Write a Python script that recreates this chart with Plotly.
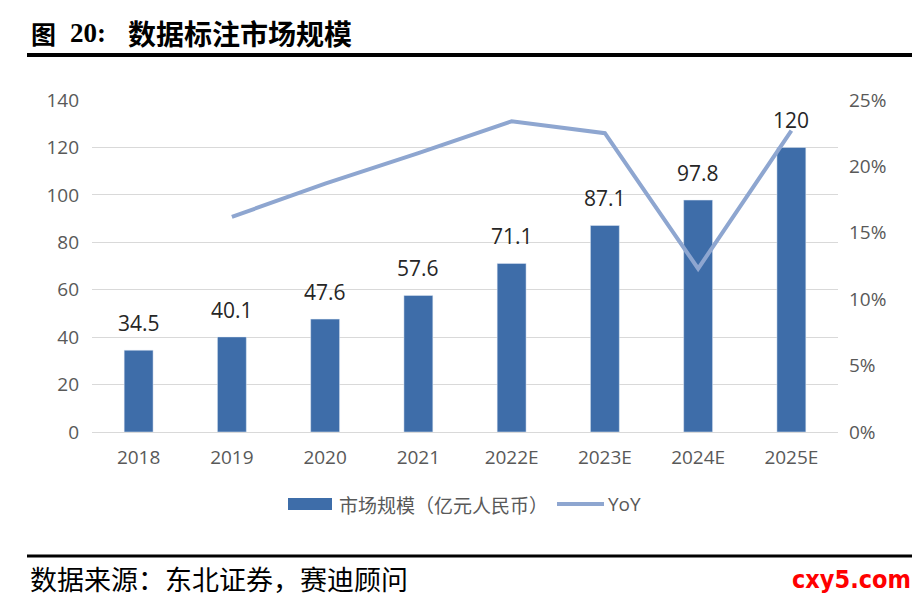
import plotly.graph_objects as go

years = ["2018", "2019", "2020", "2021", "2022E", "2023E", "2024E", "2025E"]
market_size = [34.5, 40.1, 47.6, 57.6, 71.1, 87.1, 97.8, 120]
yoy_years = ["2019", "2020", "2021", "2022E", "2023E", "2024E", "2025E"]
yoy = [0.162, 0.187, 0.210, 0.234, 0.225, 0.123, 0.227]
left_ticks = [0, 20, 40, 60, 80, 100, 120, 140]
right_ticks = [0, 0.05, 0.10, 0.15, 0.20, 0.25]

# page has an 8px body margin
OFF = 8
W, H = 920 - OFF, 599 - OFF
L, R, T, B = 92, 838, 100, 432   # plot area in page pixels

def px(x):
    return (x - L) / (R - L)

def py(y):
    return (B - y) / (B - T)

BAR = "#3E6DA9"
LINE = "#8EA6D0"
GREY = "#595959"
NUMF = "Open Sans, Noto Sans CJK SC"
CJK = "Noto Sans CJK SC"

fig = go.Figure()
fig.add_trace(go.Bar(
    x=years, y=market_size, name="市场规模（亿元人民币）",
    marker=dict(color=BAR), width=0.31, showlegend=False,
))
fig.add_trace(go.Scatter(
    x=yoy_years, y=yoy, name="YoY", yaxis="y2", mode="lines",
    line=dict(color=LINE, width=4), showlegend=False,
))

annotations = []
for i, v in enumerate(market_size):
    annotations.append(dict(
        x=i, y=v, xref="x", yref="y", text=f"{v:g}", showarrow=False,
        yanchor="bottom", yshift=11,
        font=dict(size=21, color="#262626", family=NUMF)))

# title pieces
annotations += [
    dict(text="<b>图</b>", xref="paper", yref="paper", x=px(29), y=py(33),
         xanchor="left", yanchor="middle", showarrow=False,
         font=dict(size=25, color="black", family=CJK)),
    dict(text="<b>20:</b>", xref="paper", yref="paper", x=px(68), y=py(33),
         xanchor="left", yanchor="middle", showarrow=False,
         font=dict(size=27, color="black", family="Liberation Serif, " + CJK)),
    dict(text="<b>数据标注市场规模</b>", xref="paper", yref="paper", x=px(126), y=py(33),
         xanchor="left", yanchor="middle", showarrow=False,
         font=dict(size=28, color="black", family=CJK)),
    # legend texts
    dict(text="市场规模（亿元人民币）", xref="paper", yref="paper", x=px(337), y=py(504),
         xanchor="left", yanchor="middle", showarrow=False,
         font=dict(size=19, color=GREY, family=CJK)),
    dict(text="YoY", xref="paper", yref="paper", x=px(606), y=py(504),
         xanchor="left", yanchor="middle", showarrow=False,
         font=dict(size=19, color=GREY, family=NUMF)),
    # source
    dict(text="数据来源：东北证券，赛迪顾问", xref="paper", yref="paper",
         x=px(28), y=py(578), xanchor="left", yanchor="middle", showarrow=False,
         font=dict(size=27, color="black", family=CJK)),
    dict(text="<b>cxy5.com</b>", xref="paper", yref="paper",
         x=px(913), y=py(579), xanchor="right", yanchor="middle", showarrow=False,
         font=dict(size=25, color="#FF0000",
                   family="Liberation Sans Narrow, DejaVu Sans Condensed, Roboto")),
]

shapes = [
    dict(type="line", xref="paper", yref="paper", x0=px(27), x1=px(925),
         y0=py(55), y1=py(55), line=dict(color="black", width=4)),
    dict(type="line", xref="paper", yref="paper", x0=px(27), x1=px(925),
         y0=py(556), y1=py(556), line=dict(color="black", width=3)),
    # legend symbols
    dict(type="rect", xref="paper", yref="paper", x0=px(288), x1=px(332),
         y0=py(510), y1=py(498), fillcolor=BAR, line=dict(width=0)),
    dict(type="line", xref="paper", yref="paper", x0=px(557), x1=px(604),
         y0=py(504), y1=py(504), line=dict(color=LINE, width=4)),
]

fig.update_layout(
    width=W, height=H,
    margin=dict(l=L - OFF, r=920 - R, t=T - OFF, b=599 - B),
    plot_bgcolor="white", paper_bgcolor="white",
    font=dict(family=NUMF, color=GREY, size=18),
    showlegend=False,
    xaxis=dict(type="category", categoryorder="array", categoryarray=years,
               range=[-0.5, len(years) - 0.5], autorange=False,
               showgrid=False, showline=False, ticks="", ticklabelstandoff=12,
               tickfont=dict(size=19, color=GREY)),
    yaxis=dict(range=[0, 140], tickvals=left_ticks, showgrid=True,
               gridcolor="#D9D9D9", gridwidth=1.2, zeroline=True,
               zerolinecolor="#D9D9D9", zerolinewidth=1.2, ticks="",
               ticklabelstandoff=12, tickfont=dict(size=19, color=GREY)),
    yaxis2=dict(range=[0, 0.25], tickvals=right_ticks, tickformat=".0%",
                overlaying="y", side="right", showgrid=False, zeroline=False,
                ticks="", ticklabelstandoff=10, tickfont=dict(size=19, color=GREY)),
    shapes=shapes,
    annotations=annotations,
)

fig.write_html("out.html")
